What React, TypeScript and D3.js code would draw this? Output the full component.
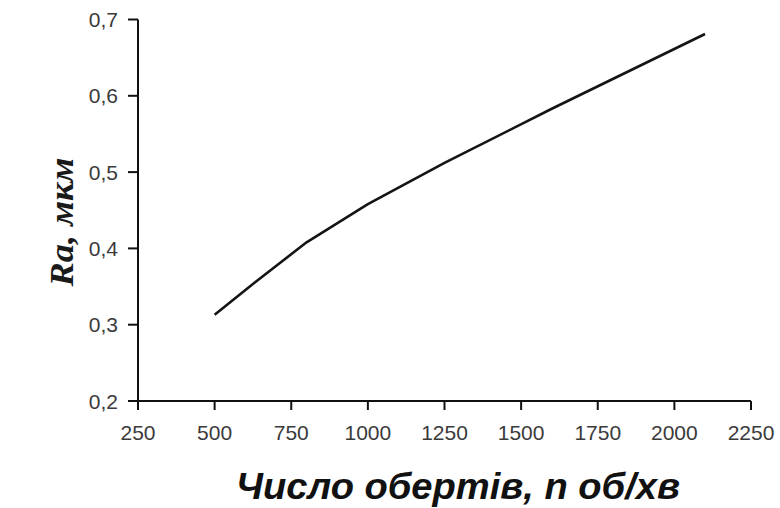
import React from "react";
import * as d3 from "d3";

// Spindle speed, rpm
const speeds = [500, 630, 800, 1000, 1250, 1600, 2100];
// Surface roughness Ra, µm
const roughness = [0.313, 0.355, 0.408, 0.458, 0.512, 0.583, 0.681];

const xTicks = [250, 500, 750, 1000, 1250, 1500, 1750, 2000, 2250];
const yTicks = [0.2, 0.3, 0.4, 0.5, 0.6, 0.7];

const xTitle = "Число обертів, n об/хв";
const yTitle = "Ra, мкм";

const W = 780;
const H = 508;
const plot = { left: 138, right: 751, top: 19.5, bottom: 401 };

export default function App() {
  const x = d3.scaleLinear().domain([250, 2250]).range([plot.left, plot.right]);
  const y = d3.scaleLinear().domain([0.2, 0.7]).range([plot.bottom, plot.top]);

  const line = d3
    .line<number>()
    .x((_, i) => x(speeds[i]))
    .y((d) => y(d));

  const tickFont = "'Liberation Sans', Arial, sans-serif";
  const fmt = (v: number) => v.toFixed(1).replace(".", ",");

  return (
    <svg
      width={W}
      height={H}
      viewBox={`0 0 ${W} ${H}`}
      style={{ position: "absolute", left: 0, top: 0, background: "#fff" }}
    >
      {/* y axis */}
      <line x1={plot.left} x2={plot.left} y1={plot.top} y2={plot.bottom} stroke="#111" strokeWidth={2} />
      {yTicks.map((t) => (
        <g key={`y${t}`}>
          <line x1={plot.left - 10} x2={plot.left} y1={y(t)} y2={y(t)} stroke="#111" strokeWidth={2} />
          <text
            x={plot.left - 20}
            y={y(t)}
            dy="0.36em"
            textAnchor="end"
            fontFamily={tickFont}
            fontSize={21}
            fill="#3a3a3a"
          >
            {fmt(t)}
          </text>
        </g>
      ))}

      {/* x axis */}
      <line x1={plot.left} x2={plot.right} y1={plot.bottom} y2={plot.bottom} stroke="#111" strokeWidth={2} />
      {xTicks.map((t) => (
        <g key={`x${t}`}>
          <line x1={x(t)} x2={x(t)} y1={plot.bottom} y2={plot.bottom + 9} stroke="#111" strokeWidth={2} />
          <text
            x={x(t)}
            y={plot.bottom + 39}
            textAnchor="middle"
            fontFamily={tickFont}
            fontSize={21}
            fill="#3a3a3a"
          >
            {t}
          </text>
        </g>
      ))}

      {/* series */}
      <path d={line(roughness) ?? ""} fill="none" stroke="#151515" strokeWidth={2.6} strokeLinejoin="round" />

      {/* axis titles */}
      <text
        x={458}
        y={499}
        textAnchor="middle"
        fontFamily={tickFont}
        fontSize={37}
        fontWeight="bold"
        fontStyle="italic"
        fill="#111"
        textLength={444}
        lengthAdjust="spacingAndGlyphs"
      >
        {xTitle}
      </text>
      <text
        transform="translate(73,222) rotate(-90)"
        textAnchor="middle"
        fontFamily="'Liberation Serif', 'Times New Roman', serif"
        fontSize={34}
        fontWeight="bold"
        fontStyle="italic"
        fill="#1a1a1a"
        textLength={129}
        lengthAdjust="spacingAndGlyphs"
      >
        {yTitle}
      </text>
    </svg>
  );
}
